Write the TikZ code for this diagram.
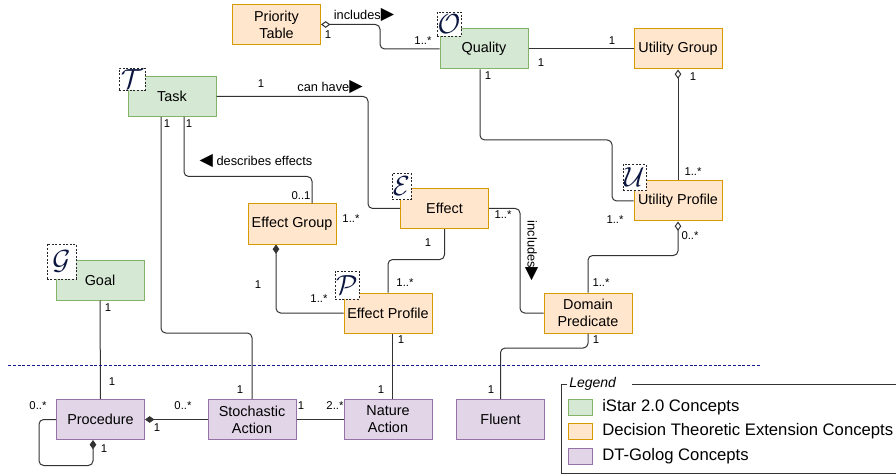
\documentclass[tikz,border=0pt]{standalone}
\usepackage{fontspec}
\setmainfont{Liberation Sans}
\newfontfamily\symbfont{DejaVu Sans}
\usetikzlibrary{arrows.meta,calc,positioning}

\definecolor{istarfill}{HTML}{D5E8D4}
\definecolor{istarline}{HTML}{82B366}
\definecolor{dtefill}{HTML}{FFE6CC}
\definecolor{dteline}{HTML}{D79B00}
\definecolor{gologfill}{HTML}{E1D5E7}
\definecolor{gologline}{HTML}{9673A6}
\definecolor{linegray}{HTML}{333333}
\definecolor{letterblue}{HTML}{0B1640}
\definecolor{sepblue}{HTML}{1A1A90}

\newcommand{\boxfont}{\fontsize{10.8}{12.8}\selectfont}
\newcommand{\multfont}{\fontsize{8.5}{10}\selectfont}
\newcommand{\assocfont}{\fontsize{9.6}{11}\selectfont}
\newcommand{\legfont}{\fontsize{12.5}{14}\selectfont}
\newcommand{\letterfont}{\fontsize{20.74}{22}\selectfont}
\newcommand{\rtri}{{\symbfont\fontsize{13}{11}\selectfont ▶}}
\newcommand{\ltri}{{\symbfont\fontsize{13}{11}\selectfont ◀}}

\begin{document}
\begin{tikzpicture}[x=0.75pt,y=-0.75pt,
	box/.style={draw,line width=0.75pt,minimum width=66pt,minimum height=30pt,inner sep=1pt,align=center,font=\boxfont},
	istar/.style={box,fill=istarfill,draw=istarline},
	dte/.style={box,fill=dtefill,draw=dteline},
	golog/.style={box,fill=gologfill,draw=gologline},
	letterbox/.style={draw=black!85,fill=white,dash pattern=on 1.5pt off 1.2pt,line width=0.5pt,inner sep=0pt,font=\letterfont,text=letterblue},
	conn/.style={draw=linegray,line width=0.75pt,rounded corners=3.5pt},
	agg/.style={{Diamond[open,length=7pt,width=5pt]}-},
	comp/.style={{Diamond[length=7pt,width=5pt]}-},
	mult/.style={font=\multfont,inner sep=0pt},
	assoc/.style={font=\assocfont,inner sep=0pt},
	swatch/.style={draw,line width=0.75pt,minimum width=18pt,minimum height=12pt,inner sep=0pt}]
	\useasboundingbox (0,0) rectangle (896,474);

	% concept boxes
	\node[dte] (prio) at (276.5,24.5) {Priority\\Table};
	\node[istar] (quality) at (484,49) {Quality};
	\node[dte] (ugroup) at (678,49) {Utility Group};
	\node[istar] (task) at (172,96.5) {Task};
	\node[dte] (uprofile) at (678,201) {Utility Profile};
	\node[dte] (egroup) at (292,224) {Effect Group};
	\node[dte] (effect) at (444.5,208.5) {Effect};
	\node[istar] (goal) at (100,280) {Goal};
	\node[dte] (eprofile) at (388,313) {Effect Profile};
	\node[dte] (dpred) at (588,313) {Domain\\Predicate};

	% DT-Golog row
	\node[golog] (proc) at (100.5,419.5) {Procedure};
	\node[golog] (stoch) at (252,419.5) {Stochastic\\Action};
	\node[golog] (nature) at (388,419.5) {Nature\\Action};
	\node[golog] (fluent) at (500.5,419.5) {Fluent};

	% associations
	\draw[conn,agg] (prio.east) -- (380,24.5) |- (quality.west);
	\draw[conn] (quality.east) -- (ugroup.west);
	\draw[conn] ($(quality.south)+(-4,0)$) |- (612,140) |- (uprofile.west);
	\draw[conn,agg] (ugroup.south) -- (uprofile.north);
	\draw[conn] (task.east) -- (368,96.5) |- (effect.west);
	\draw[conn] ($(task.south)+(12,0)$) |- ($(egroup.north)+(20,-27)$) -- ($(egroup.north)+(20,0)$);
	\draw[conn] ($(task.south)+(-11,0)$) |- ($(stoch.north)+(0,-66)$) -- (stoch.north);
	\draw[conn,comp] ($(egroup.south)+(-16,0)$) |- (eprofile.west);
	\draw[conn] (effect.south) |- ($(eprofile.north)+(0,-33)$) -- (eprofile.north);
	\draw[conn] (effect.east) -- (520,208.5) |- (dpred.west);
	\draw[conn,agg] (uprofile.south) |- ($(dpred.north)+(0,-37)$) -- (dpred.north);
	\draw[conn] (goal.south) -- (proc.north);
	\draw[conn] ($(eprofile.south)+(4,0)$) -- ($(nature.north)+(4,0)$);
	\draw[conn] (dpred.south) |- ($(fluent.north)+(0,-51)$) -- (fluent.north);
	\draw[conn,comp] (proc.east) -- (stoch.west);
	\draw[conn] (stoch.east) -- (nature.west);
	\draw[conn,comp] ($(proc.south)+(-7.5,0)$) |- ($(proc.west)+(-17,46)$) |- (proc.west);

	% letter markers
	\node[letterbox,minimum width=18pt,minimum height=18pt] (mO) at (449,24) {$\mathcal{O}$};
	\node[letterbox,minimum width=19.5pt,minimum height=16.5pt] (mT) at (132,79) {$\mathcal{T}$};
	\node[letterbox,minimum width=17pt,minimum height=20pt] (mU) at (634.5,177.5) {$\mathcal{U}$};
	\node[letterbox,minimum width=14pt,minimum height=20pt] (mE) at (401.5,186.5) {$\mathcal{E}$};
	\node[letterbox,minimum width=22pt,minimum height=26pt] (mG) at (61.5,261.5) {$\mathcal{G}$};
	\node[letterbox,minimum width=18pt,minimum height=21pt] (mP) at (347,285) {$\mathcal{P}$};

	% association names
	\node[assoc] (aincl) at (364,15) {includes\rtri};
	\node[assoc] (ahave) at (330,87) {can have\rtri};
	\node[assoc] (adesc) at (256,161) {\ltri\ describes effects};
	\node[assoc,rotate=-90] (aincl2) at (532,251) {includes\rtri};

	% multiplicities
	\node[mult] (m1) at (328,35) {1};
	\node[mult] (m2) at (423,41) {1..*};
	\node[mult] (m3) at (541,63) {1};
	\node[mult] (m4) at (612,41) {1};
	\node[mult] (m5) at (488,76) {1};
	\node[mult] (m6) at (615,220) {1..*};
	\node[mult] (m7) at (693,77) {1};
	\node[mult] (m8) at (693,172) {1..*};
	\node[mult] (m9) at (261,84) {1};
	\node[mult] (m10) at (167,124) {1};
	\node[mult] (m11) at (189,124) {1};
	\node[mult] (m12) at (301,196) {0..1};
	\node[mult] (m13) at (351,219) {1..*};
	\node[mult] (m14) at (108,308) {1};
	\node[mult] (m15) at (112,382) {1};
	\node[mult] (m16) at (240,390) {1};
	\node[mult] (m17) at (401,340) {1};
	\node[mult] (m18) at (381,390) {1};
	\node[mult] (m19) at (596,340) {1};
	\node[mult] (m20) at (491,390) {1};
	\node[mult] (m21) at (183,406) {0..*};
	\node[mult] (m22) at (157,428) {1};
	\node[mult] (m23) at (301,406) {1};
	\node[mult] (m24) at (335,406) {2..*};
	\node[mult] (m25) at (38,406) {0..*};
	\node[mult] (m26) at (104,449) {1};
	\node[mult] (m27) at (258,285) {1};
	\node[mult] (m28) at (319,299) {1..*};
	\node[mult] (m29) at (428,243) {1};
	\node[mult] (m30) at (405,283) {1..*};
	\node[mult] (m31) at (503,215) {1..*};
	\node[mult] (m32) at (690,236) {0..*};
	\node[mult] (m33) at (601,283) {1..*};

	% separator
	\draw[sepblue,line width=0.75pt,dash pattern=on 2.2pt off 1.4pt] (8,365) -- (760,365);

	% legend
	\node[anchor=west,inner sep=0pt,font=\fontsize{10.5}{12}\selectfont\itshape] (legtitle) at (569,384) {Legend};
	\draw[linegray,line width=0.75pt] (legtitle.west) ++(-2,0) -- (561,384) -- (561,473) -- (896,473);
	\draw[linegray,line width=0.75pt] (632,384) -- (896,384);
	\node[swatch,fill=istarfill,draw=istarline] (sw1) at (580,407) {};
	\node[swatch,fill=dtefill,draw=dteline] (sw2) at (580,431) {};
	\node[swatch,fill=gologfill,draw=gologline] (sw3) at (580,456) {};
	\node[anchor=west,inner sep=0pt,font=\legfont] (lt1) at (602,407) {iStar 2.0 Concepts};
	\node[anchor=west,inner sep=0pt,font=\legfont] (lt2) at (602,431) {Decision Theoretic Extension Concepts};
	\node[anchor=west,inner sep=0pt,font=\legfont] (lt3) at (602,456) {DT-Golog Concepts};
\end{tikzpicture}
\end{document}
